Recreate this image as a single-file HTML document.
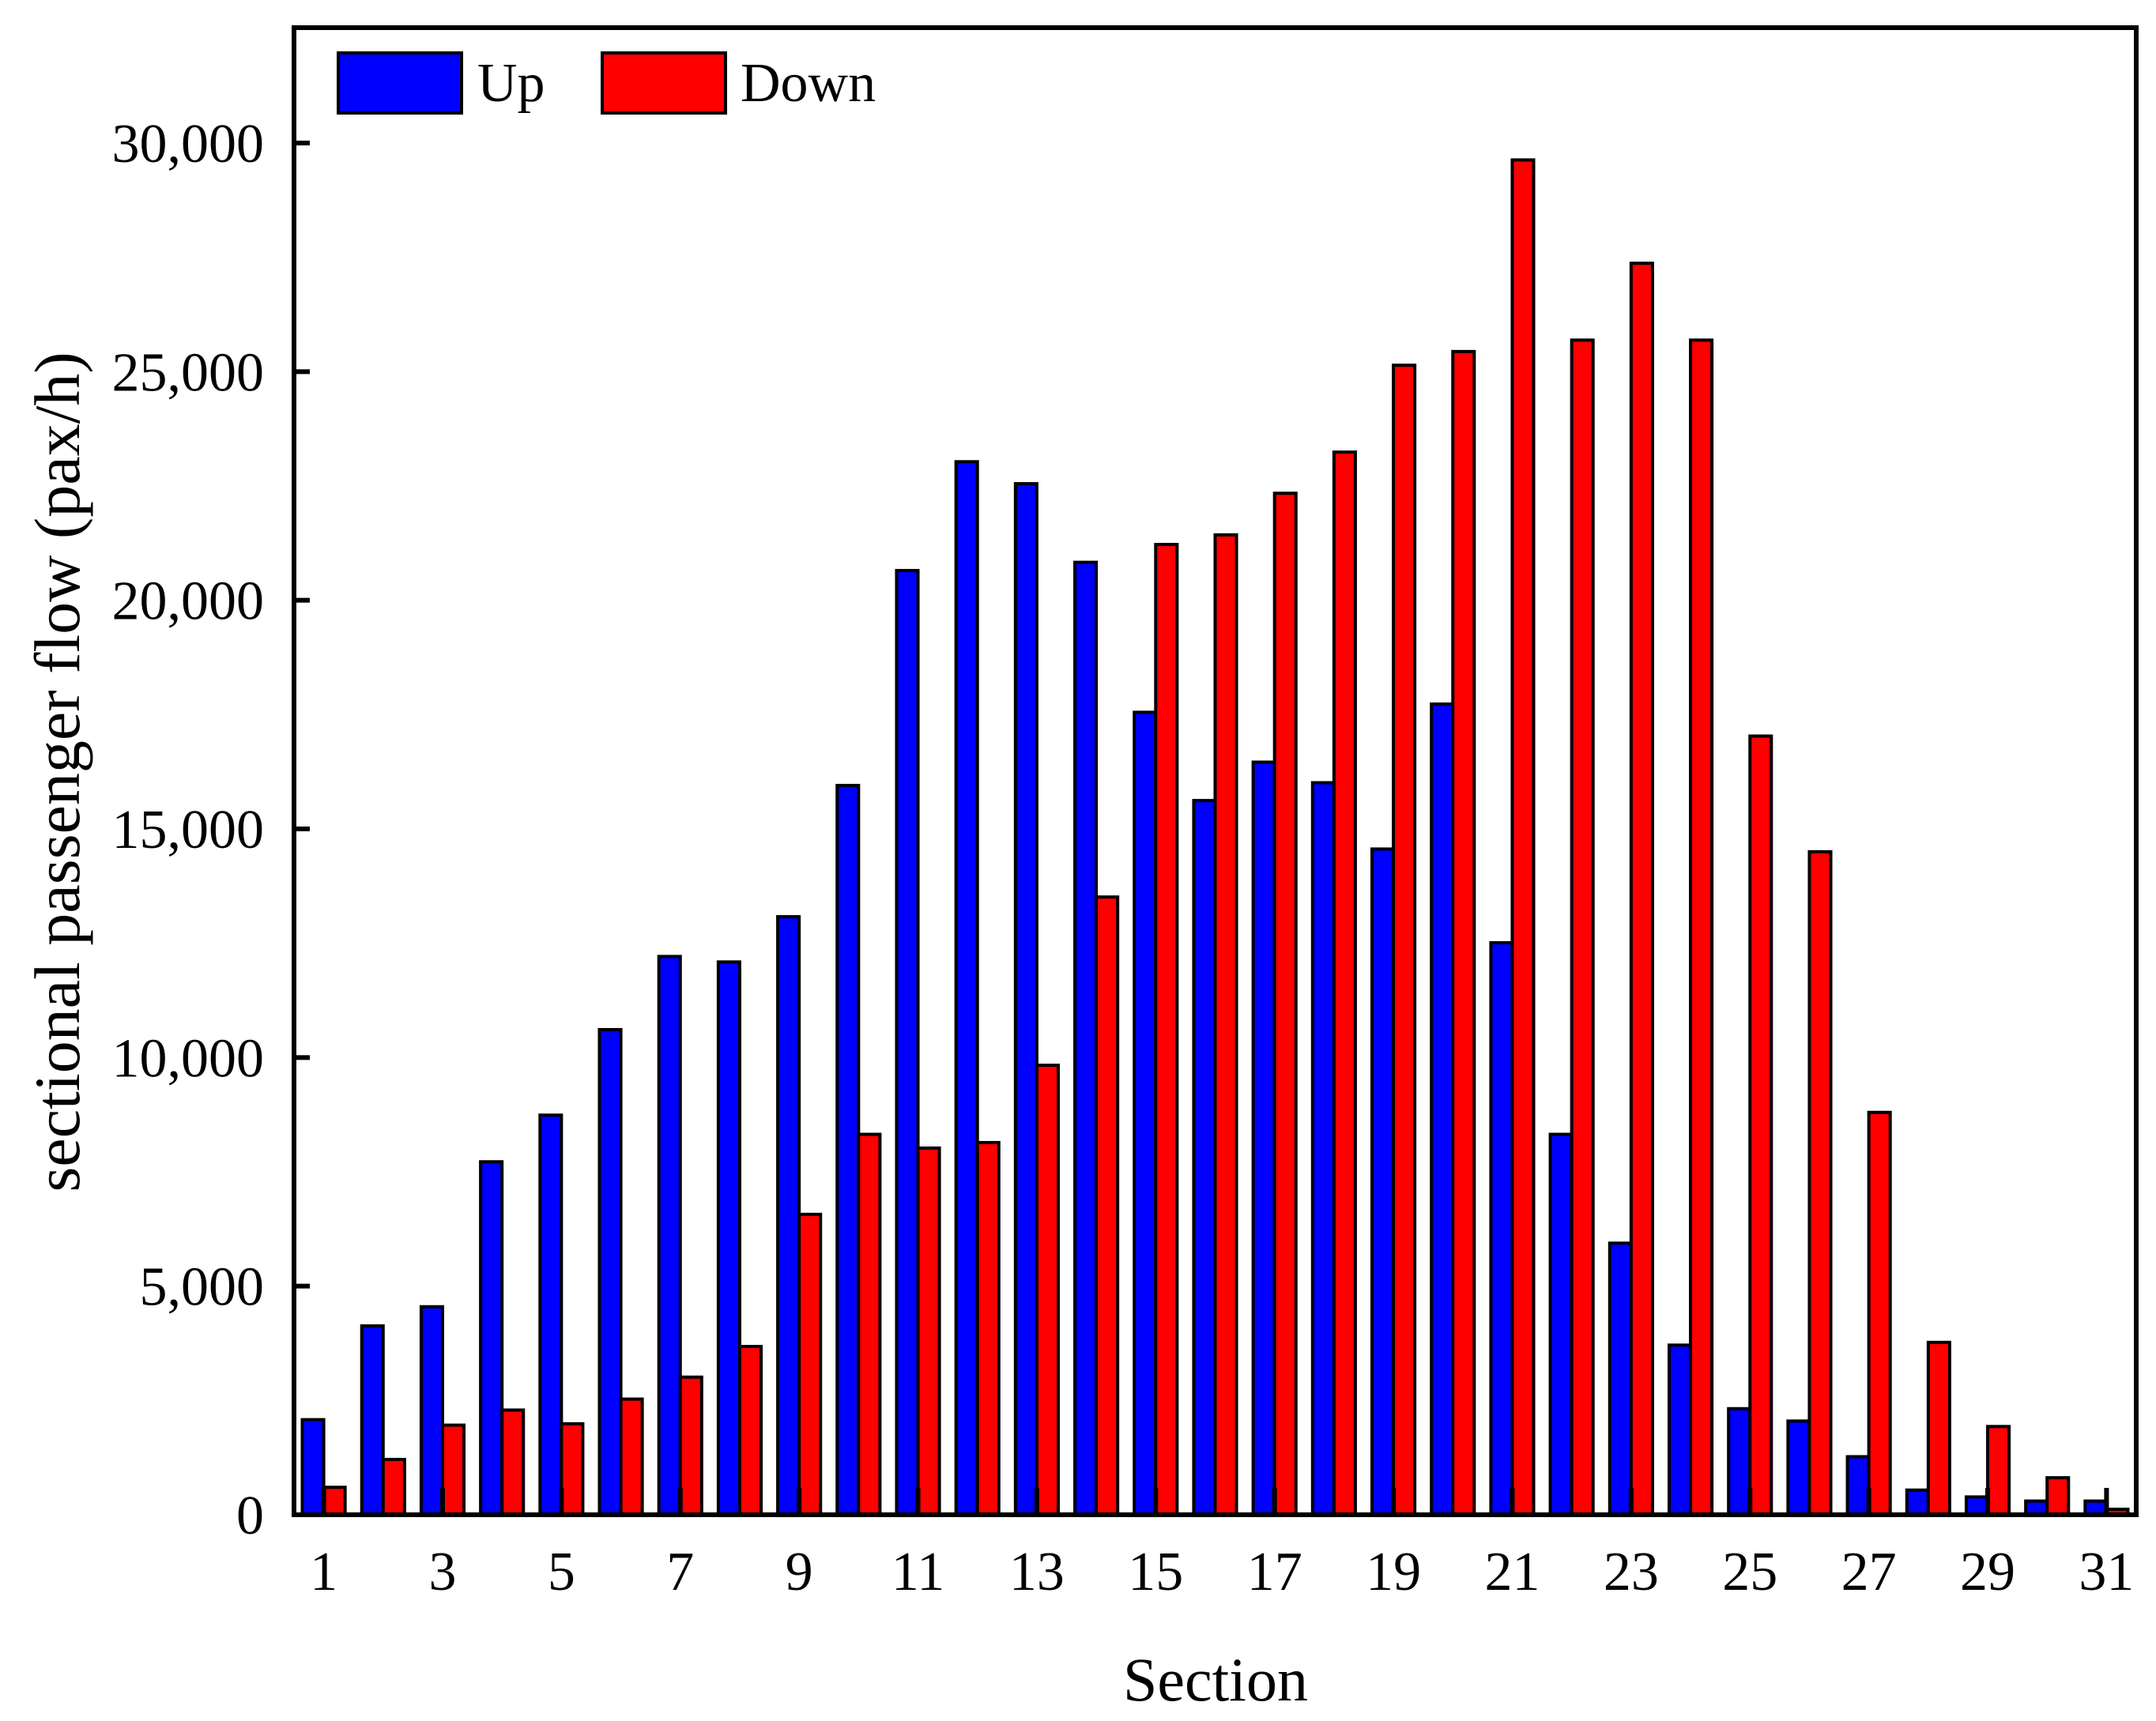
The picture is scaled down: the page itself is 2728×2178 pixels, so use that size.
<!DOCTYPE html>
<html><head><meta charset="utf-8"><style>
html,body{margin:0;padding:0;background:#fff;}
svg{display:block;font-family:"Liberation Serif",serif;}
</style></head><body>
<svg id="chart" width="2728" height="2178" viewBox="0 0 2728 2178" xmlns="http://www.w3.org/2000/svg">
<g id="bars"></g>
<g id="axes"></g>
<g>
<rect x="428" y="67" width="156" height="76" fill="#0000ff" stroke="#000" stroke-width="4"/>
<text x="604" y="128" font-size="70">Up</text>
<rect x="762" y="67" width="156" height="76" fill="#ff0000" stroke="#000" stroke-width="4"/>
<text x="937" y="128" font-size="70">Down</text>
</g>
<text x="1538" y="2152" font-size="78" text-anchor="middle">Section</text>
<text transform="translate(100,977) rotate(-90)" font-size="82" text-anchor="middle">sectional passenger  flow (pax/h)</text>
</svg>
<script>
const categories = [1,2,3,4,5,6,7,8,9,10,11,12,13,14,15,16,17,18,19,20,21,22,23,24,25,26,27,28,29,30,31];
const upValues = [2080,4130,4550,7720,8740,10610,12210,12090,13080,15950,20650,23030,22550,20830,17550,15620,16460,16010,14560,17730,12510,8320,5940,3710,2320,2050,1270,540,390,300,300];
const downValues = [600,1210,1960,2290,1990,2530,3010,3680,6570,8320,8020,8140,9830,13510,21220,21430,22340,23240,25140,25440,29630,25690,27370,25690,17030,14500,8800,3770,1930,810,120];
const yTicks = [0,5000,10000,15000,20000,25000,30000];
const yTickLabels = ["0","5,000","10,000","15,000","20,000","25,000","30,000"];
const xTickLabels = ["1","3","5","7","9","11","13","15","17","19","21","23","25","27","29","31"];

const L=372,R=2703,T=35,B=1917,Y30=181;
const NS="http://www.w3.org/2000/svg";
const x = c => L + (c-0.5)/31*(R-L);
const y = v => B - v/30000*(B-Y30);
const step=(R-L)/31, bw=step*0.36;
function mk(tag,attrs,parent){const e=document.createElementNS(NS,tag);for(const k in attrs)e.setAttribute(k,attrs[k]);parent.appendChild(e);return e;}
const bars=document.getElementById('bars'), axes=document.getElementById('axes');
categories.forEach((c,i)=>{
  const cx=x(c);
  let r=mk('rect',{x:cx-bw,y:y(upValues[i]),width:bw,height:B-y(upValues[i]),fill:'#0000ff',stroke:'#000','stroke-width':4},bars);
  
  
  let d=mk('rect',{x:cx,y:y(downValues[i]),width:bw,height:B-y(downValues[i]),fill:'#ff0000',stroke:'#000','stroke-width':4},bars);
  
  
});
let frame=mk('rect',{x:L,y:T,width:R-L,height:B-T,fill:'none',stroke:'#000','stroke-width':6},axes);


yTicks.forEach((v,i)=>{
  let t=mk('line',{x1:L,x2:L+20,y1:y(v),y2:y(v),stroke:'#000','stroke-width':6},axes);
  
  
  let tx=mk('text',{x:L-38,y:y(v)+24,'font-size':70,'text-anchor':'end'},axes);
  tx.textContent=yTickLabels[i];
  
  
});
xTickLabels.forEach(lbl=>{
  const c=+lbl;
  let t=mk('line',{x1:x(c),x2:x(c),y1:B,y2:B-34,stroke:'#000','stroke-width':6},axes);
  
  
  let tx=mk('text',{x:x(c),y:2012,'font-size':70,'text-anchor':'middle'},axes);
  tx.textContent=lbl;
  
  
});
</script>
</body></html>
